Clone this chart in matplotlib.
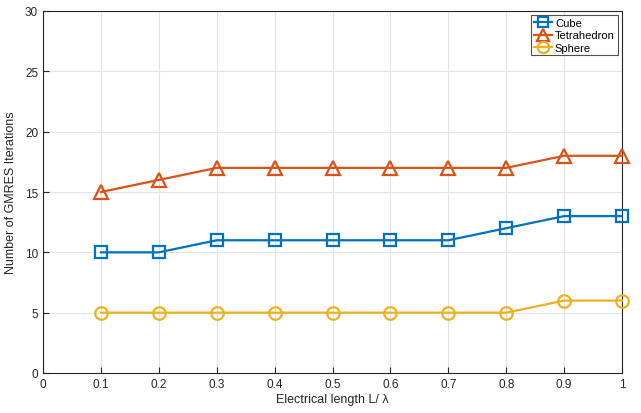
import matplotlib
matplotlib.use("Agg")
import matplotlib.pyplot as plt

x = [0.1, 0.2, 0.3, 0.4, 0.5, 0.6, 0.7, 0.8, 0.9, 1.0]
cube = [10, 10, 11, 11, 11, 11, 11, 12, 13, 13]
tetra = [15, 16, 17, 17, 17, 17, 17, 17, 18, 18]
sphere = [5, 5, 5, 5, 5, 5, 5, 5, 6, 6]
xticks = [0, 0.1, 0.2, 0.3, 0.4, 0.5, 0.6, 0.7, 0.8, 0.9, 1]
xticklabels = ["0", "0.1", "0.2", "0.3", "0.4", "0.5", "0.6", "0.7", "0.8", "0.9", "1"]
yticks = [0, 5, 10, 15, 20, 25, 30]

plt.rcParams['font.family'] = ['Liberation Sans', 'DejaVu Sans']
fig = plt.figure(figsize=(6.41, 4.14), dpi=100)
ax = fig.add_axes([43/641, 1-374/414, (622-43)/641, (374-12)/414])

ax.plot(x, cube, color='#0072BD', lw=1.6, marker='s', ms=8.5, mfc='none', mew=1.6, label='Cube', clip_on=False, zorder=3)
ax.plot(x, tetra, color='#D95319', lw=1.6, marker='^', ms=10, mfc='none', mew=1.6, label='Tetrahedron', clip_on=False, zorder=3)
ax.plot(x, sphere, color='#EDB120', lw=1.6, marker='o', ms=9, mfc='none', mew=1.6, label='Sphere', clip_on=False, zorder=3)

ax.set_xlim(0, 1)
ax.set_ylim(0, 30)
ax.set_xticks(xticks)
ax.set_xticklabels(xticklabels)
ax.set_yticks(yticks)
ax.grid(True, color='#e3e3e3', lw=0.8)
ax.set_axisbelow(True)
ax.tick_params(direction='in', length=4, width=0.8, colors='#262626', labelsize=8.5, top=False, right=False)
for s in ax.spines.values():
    s.set_color('#262626')
    s.set_linewidth(0.8)
ax.set_xlabel('Electrical length L/ λ', fontsize=9, color='#262626', labelpad=2)
ax.set_ylabel('Number of GMRES Iterations', fontsize=9, color='#262626', labelpad=6)

leg = ax.legend(loc='upper right', fontsize=8, frameon=True, fancybox=False, edgecolor='#262626',
                borderpad=0.25, handlelength=1.6, handletextpad=0.3, labelspacing=0.2,
                borderaxespad=0.4, markerscale=0.9)
leg.get_frame().set_linewidth(0.8)
leg.set_zorder(5)

fig.savefig('out.png', dpi=100)
